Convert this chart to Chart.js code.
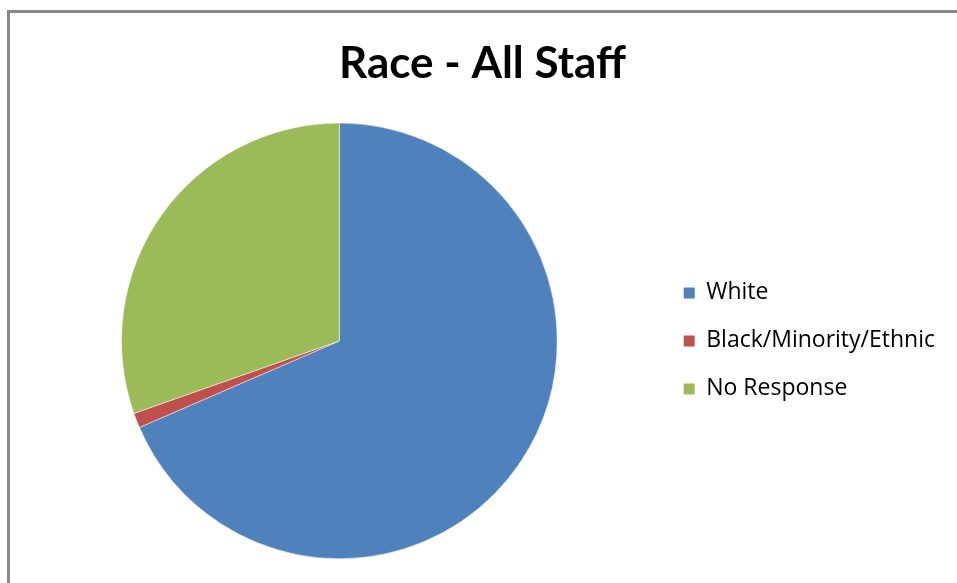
<!DOCTYPE html>
<html>
<head>
<meta charset="utf-8">
<script src="https://cdn.jsdelivr.net/npm/chart.js@4.4.0/dist/chart.umd.min.js"></script>
<style>
  html, body { margin: 0; padding: 0; background: #fff; overflow: hidden; }
  #wrap { position: relative; width: 957px; height: 583px; }
  #frame {
    position: absolute; left: 7px; top: 10px; width: 1000px; height: 700px;
    border: 3px solid #888888; box-sizing: border-box;
  }
  canvas { position: absolute; left: 0; top: 0; }
</style>
</head>
<body>
<div id="wrap">
  <div id="frame"></div>
  <canvas id="chart-race" width="957" height="583"></canvas>
</div>
<script>
// Percentual de funcionários por raça
const categories = ['White', 'Black/Minority/Ethnic', 'No Response'];
const shares = [68.5, 1.1, 30.4];
const sliceColors = ['#4F81BD', '#C0504D', '#9BBB59'];

new Chart(document.getElementById('chart-race'), {
  type: 'pie',
  data: {
    labels: categories,
    datasets: [{
      data: shares,
      backgroundColor: sliceColors,
      borderColor: '#ffffff',
      borderWidth: 0.5
    }]
  },
  options: {
    responsive: false,
    animation: false,
    layout: { padding: { left: 20, right: 12, top: 0, bottom: 24 } },
    plugins: {
      title: {
        display: true,
        text: 'Race - All Staff',
        color: '#000000',
        font: { family: 'Lato', size: 44, weight: 'bold', lineHeight: 1.2 },
        padding: { top: 37, bottom: 33 }
      },
      legend: {
        position: 'right',
        fullSize: false,
        labels: {
          color: '#000000',
          font: { family: 'Open Sans', size: 23 },
          boxWidth: 11,
          boxHeight: 11,
          padding: 25,
          // quadradinhos sólidos, sem contorno branco
          generateLabels: (chart) =>
            Chart.overrides.pie.plugins.legend.labels.generateLabels(chart)
              .map(item => ({ ...item, lineWidth: 0 }))
        }
      },
      tooltip: { enabled: false }
    }
  }
});
</script>
</body>
</html>
